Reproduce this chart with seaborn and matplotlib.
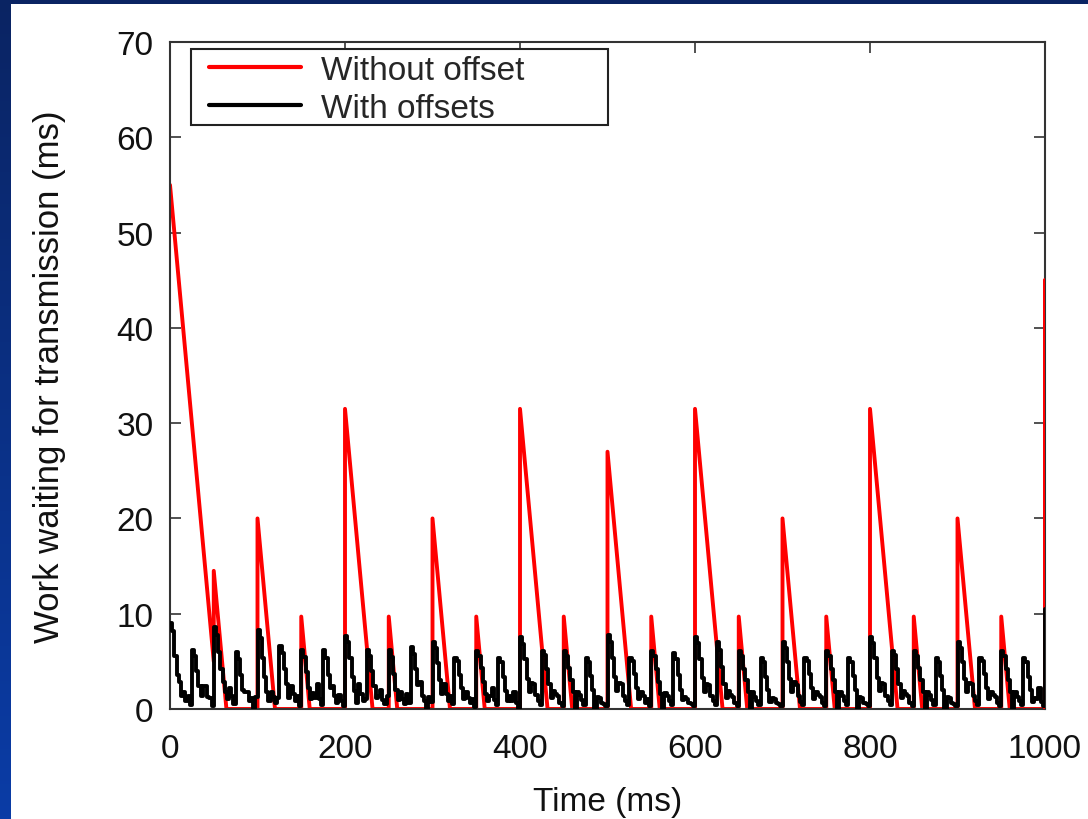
import numpy as np
import pandas as pd
import seaborn as sns
import matplotlib.pyplot as plt
from matplotlib.patches import Rectangle

# red curve: queued work without offsets (corner points)
red_time = [0, 50, 50, 64.5, 100, 100, 120, 150, 150, 159.7,
            200, 200, 231.5, 250, 250, 259.7, 300, 300, 320, 350, 350, 359.7,
            400, 400, 431.5, 450, 450, 459.7, 500, 500, 527, 550, 550, 559.7,
            600, 600, 631.5, 650, 650, 659.7, 700, 700, 720, 750, 750, 759.7,
            800, 800, 831.5, 850, 850, 859.7, 900, 900, 920, 950, 950, 959.7,
            1000, 1000]
red_work = [55, 5, 14.5, 0, 0, 20, 0, 0, 9.7, 0,
            0, 31.5, 0, 0, 9.7, 0, 0, 20, 0, 0, 9.7, 0,
            0, 31.5, 0, 0, 9.7, 0, 0, 27, 0, 0, 9.7, 0,
            0, 31.5, 0, 0, 9.7, 0, 0, 20, 0, 0, 9.7, 0,
            0, 31.5, 0, 0, 9.7, 0, 0, 20, 0, 0, 9.7, 0,
            0, 45]

# black curve: queued work with offsets, one row per 25 ms (2.5 ms samples)
black_rows = [
    [9.0, 8.2, 5.6, 3.6, 2.8, 1.4, 1.8, 0.8, 1.4, 0.4],
    [6.2, 5.6, 4.0, 2.4, 1.4, 2.4, 2.4, 1.3, 1.2, 0.3],
    [8.6, 7.8, 6.0, 4.2, 2.8, 1.8, 1.0, 2.2, 1.4, 0.5],
    [6.0, 5.2, 3.6, 2.0, 1.8, 1.8, 0.8, 1.2, 0.0, 1.3],
    [8.3, 7.4, 5.4, 3.4, 1.8, 0.8, 1.8, 1.3, 0.6, 1.2],
    [6.6, 5.9, 4.2, 2.6, 1.2, 2.4, 1.6, 0.8, 1.4, 0.3],
    [6.2, 5.5, 3.9, 2.2, 1.0, 1.7, 1.2, 2.6, 1.0, 0.4],
    [6.2, 5.4, 3.6, 2.2, 2.4, 1.4, 0.6, 1.5, 0.8, 0.3],
    [7.7, 7.0, 5.4, 3.4, 1.9, 0.6, 2.6, 1.6, 0.8, 1.1],
    [6.2, 5.6, 4.0, 2.4, 1.2, 1.4, 2.0, 0.9, 0.5, 1.4],
    [6.2, 5.5, 3.7, 2.0, 0.9, 1.8, 1.0, 0.5, 1.6, 0.6],
    [6.5, 5.8, 4.2, 2.5, 2.8, 1.4, 0.8, 0.0, 1.3, 0.7],
    [7.0, 6.4, 4.8, 3.0, 1.6, 2.6, 1.6, 0.8, 1.4, 0.5],
    [5.4, 5.0, 3.6, 2.2, 1.0, 1.8, 1.2, 0.6, 1.1, 0.2],
    [6.1, 5.6, 4.3, 2.8, 1.6, 0.8, 1.4, 2.2, 0.9, 0.4],
    [5.4, 4.9, 3.4, 1.9, 0.8, 1.4, 0.8, 1.8, 0.6, 0.0],
    [7.6, 6.8, 5.2, 3.2, 1.8, 2.7, 2.6, 1.5, 0.8, 0.4],
    [6.1, 5.7, 4.2, 2.6, 1.2, 1.9, 1.6, 1.4, 0.6, 0.3],
    [6.1, 5.6, 4.3, 3.0, 1.8, 0.0, 1.8, 1.5, 0.9, 0.4],
    [5.4, 4.9, 3.5, 2.0, 0.0, 1.3, 1.2, 0.6, 0.5, 0.3],
    [7.8, 7.0, 5.4, 3.4, 1.9, 2.7, 2.6, 1.4, 0.8, 0.4],
    [5.4, 5.0, 3.7, 2.2, 1.0, 1.8, 1.4, 0.6, 1.1, 0.3],
    [6.1, 5.6, 4.2, 2.8, 1.6, 0.0, 1.7, 1.4, 0.8, 0.4],
    [5.9, 5.2, 3.6, 2.0, 0.9, 1.3, 1.0, 0.6, 0.5, 0.3],
    [7.6, 6.9, 5.2, 3.3, 1.8, 2.6, 2.5, 1.4, 0.8, 0.4],
    [7.0, 6.2, 4.4, 2.6, 1.2, 1.9, 1.5, 1.3, 0.6, 0.3],
    [6.1, 5.6, 4.2, 3.0, 1.8, 0.0, 1.8, 1.3, 0.8, 0.4],
    [5.4, 4.9, 3.4, 2.0, 0.7, 1.2, 1.1, 0.6, 0.5, 0.3],
    [7.0, 6.4, 4.9, 3.2, 1.8, 2.8, 2.5, 1.4, 0.7, 0.4],
    [5.4, 5.0, 3.7, 2.2, 1.0, 1.8, 1.5, 1.3, 0.6, 0.3],
    [6.1, 5.6, 4.2, 3.0, 1.8, 0.0, 1.8, 1.4, 0.8, 0.4],
    [5.4, 4.9, 3.5, 2.0, 0.0, 1.3, 1.2, 0.6, 0.5, 0.3],
    [7.6, 6.9, 5.3, 3.3, 1.9, 2.7, 2.6, 1.4, 0.8, 0.4],
    [6.1, 5.7, 4.2, 2.6, 1.2, 1.9, 1.6, 1.4, 0.6, 0.3],
    [6.1, 5.6, 4.3, 3.0, 1.8, 0.0, 1.8, 1.5, 0.9, 0.4],
    [5.4, 4.9, 3.5, 2.0, 0.0, 1.3, 1.2, 0.6, 0.5, 0.3],
    [7.0, 6.4, 4.9, 3.2, 1.8, 2.7, 2.6, 1.4, 0.8, 0.4],
    [5.4, 5.0, 3.7, 2.2, 1.0, 1.8, 1.5, 1.3, 0.6, 0.3],
    [6.1, 5.6, 4.2, 3.0, 1.8, 0.0, 1.8, 1.3, 0.8, 0.4],
    [5.4, 4.9, 3.4, 2.0, 0.7, 1.2, 1.1, 2.2, 0.7, 0.3],
]
black_end = 10.5  # value at t = 1000 ms

black_work = [v for row in black_rows for v in row] + [black_end]
black_time = np.arange(len(black_work)) * 2.5

red_df = pd.DataFrame({"time": red_time, "work": red_work})
black_df = pd.DataFrame({"time": black_time, "work": black_work})

sns.set_style("ticks")
plt.rcParams["font.family"] = ["Liberation Sans", "DejaVu Sans"]

W, H = 1088, 820
fig = plt.figure(figsize=(W / 100, H / 100), dpi=100)

# slide background: blue gradient with white panel
bg = fig.add_axes([0, 0, 1, 1], zorder=-1)
grad = np.linspace(0, 1, 256).reshape(-1, 1)
bg.imshow(grad, aspect="auto", extent=[0, 1, 0, 1], origin="upper",
          cmap=sns.blend_palette(["#0a2463", "#0a3ca6"], as_cmap=True))
bg.add_patch(Rectangle((11 / W, 0), 1, 1 - 5 / H, transform=bg.transAxes,
                       facecolor="white", edgecolor="none"))
bg.set_xlim(0, 1)
bg.set_ylim(0, 1)
bg.axis("off")

AX_W, AX_H = 875, 667
ax = fig.add_axes([170 / W, 1 - 710 / H, AX_W / W, AX_H / H])
ax.set_facecolor("white")

# red stays under the frame, black sits on top of it like in the original
sns.lineplot(data=red_df, x="time", y="work", color="#ff0000", lw=2.8,
             estimator=None, sort=False, label="Without offset", ax=ax,
             zorder=2)
# last jump at t = 1000 runs along the right border; keep it visible
sns.lineplot(data=red_df.tail(2), x="time", y="work", color="#ff0000", lw=2.8,
             estimator=None, sort=False, ax=ax, zorder=2.6, legend=False)
sns.lineplot(data=black_df, x="time", y="work", color="black", lw=2.8,
             drawstyle="steps-post", estimator=None, sort=False,
             label="With offsets", ax=ax, zorder=2.7)

ax.set_xlim(0, 1000)
ax.set_ylim(0, 70)
ax.set_xticks(range(0, 1001, 200))
ax.set_yticks(range(0, 71, 10))
ax.tick_params(direction="in", length=8, width=1.2, top=True, right=True,
               labelsize=24, color="#333333", labelcolor="#111111")
ax.tick_params(axis="x", pad=17)
ax.tick_params(axis="y", pad=12)
for s in ax.spines.values():
    s.set_linewidth(1.5)
    s.set_color("#333333")

ax.set_xlabel("Time (ms)", fontsize=24, labelpad=16, color="#111111")
ax.set_ylabel("Work waiting for transmission (ms)", fontsize=25, labelpad=36,
              color="#111111")

# legend box drawn separately (wider than its text, as in the original)
ax.add_patch(Rectangle((21 / AX_W, 1 - 83 / AX_H), 417 / AX_W, 76 / AX_H,
                       transform=ax.transAxes, facecolor="white",
                       edgecolor="#222222", lw=1.5, zorder=5))
handles, labels = ax.get_legend_handles_labels()
leg = ax.legend(handles[:2], labels[:2], loc="upper left",
                bbox_to_anchor=(39 / AX_W, 1 - 13 / AX_H),
                fontsize=24, frameon=False, borderaxespad=0,
                handlelength=2.75, handletextpad=0.6, labelspacing=0.2,
                borderpad=0.0)
leg.set_zorder(6)
for line in leg.get_lines():
    line.set_linewidth(3)

fig.savefig("out.png", dpi=100)
